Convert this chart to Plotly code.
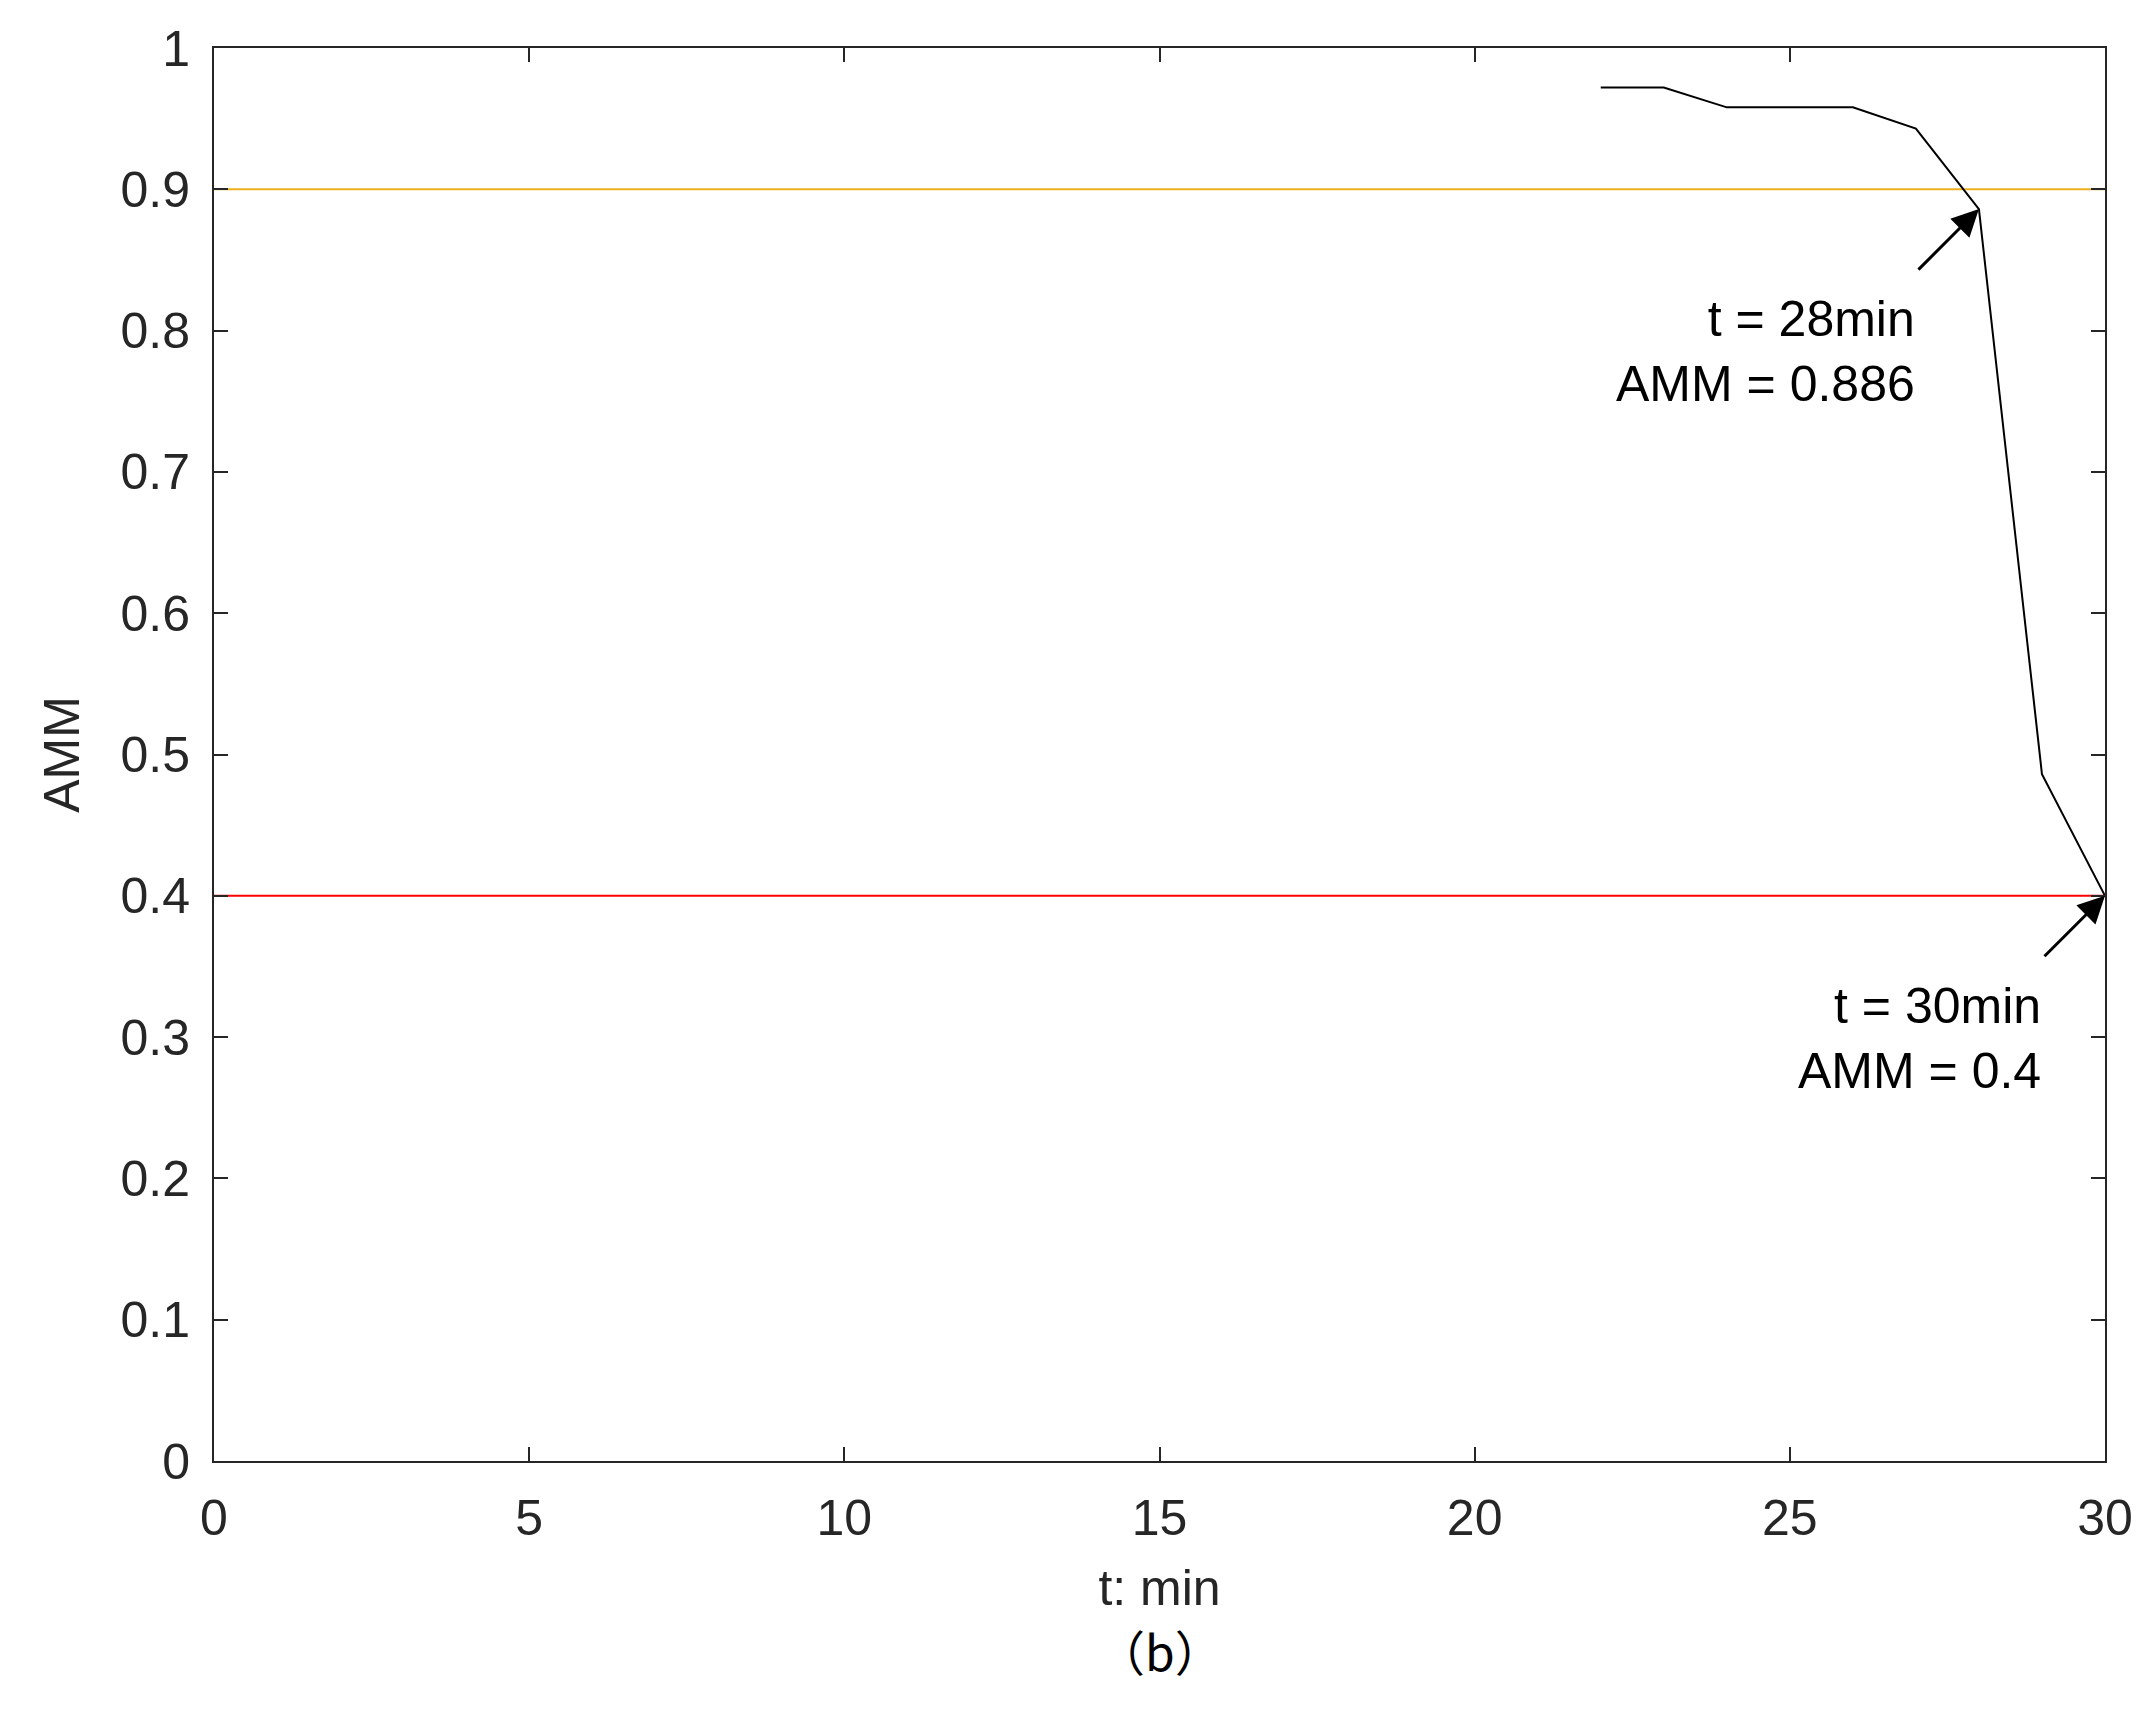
import plotly.graph_objects as go

t = [22, 23, 24, 25, 26, 27, 28, 29, 30]
amm = [0.972, 0.972, 0.958, 0.958, 0.958, 0.943, 0.886, 0.486, 0.4]
thresholds = [0.9, 0.4]
threshold_colors = ["#EDB120", "#FF0000"]

fig = go.Figure()
for th, c in zip(thresholds, threshold_colors):
    fig.add_trace(go.Scatter(x=[0, 30], y=[th, th], mode="lines",
                             line=dict(color=c, width=2), showlegend=False))
fig.add_trace(go.Scatter(x=t, y=amm, mode="lines",
                         line=dict(color="black", width=2), showlegend=False))

font = dict(family="Arial, Liberation Sans", size=50, color="#262626")
for x, y, txt in [(28, 0.886, "t = 28min<br>AMM = 0.886"), (30, 0.4, "t = 30min<br>AMM = 0.4")]:
    fig.add_annotation(x=x, y=y, ax=-62, ay=62, showarrow=True, arrowhead=2,
                       arrowsize=1.8, arrowwidth=3, arrowcolor="black", text="")
    fig.add_annotation(x=x, y=y, xshift=-62, yshift=-80, text=txt, showarrow=False,
                       xanchor="right", yanchor="top", align="right",
                       font=dict(family="Arial, Liberation Sans", size=50, color="black"))

fig.add_annotation(x=0.5, y=-0.16, xref="paper", yref="paper", text="（b）",
                   showarrow=False, font=dict(family="Noto Sans CJK SC", size=48, color="black"))

axis = dict(showline=True, linecolor="#262626", linewidth=2, mirror="ticks",
            ticks="inside", ticklen=14, tickwidth=2, tickcolor="#262626",
            showgrid=False, zeroline=False, tickfont=font, ticklabelstandoff=12)
fig.update_xaxes(range=[0, 30], dtick=5, title=dict(text="t: min", font=font, standoff=25), **axis)
fig.update_yaxes(range=[0, 1], dtick=0.1, title=dict(text="AMM", font=font, standoff=25), **axis)
fig.update_layout(width=2152, height=1736, plot_bgcolor="white", paper_bgcolor="white",
                  margin=dict(l=206, r=55, t=37, b=283), font=font)
fig.write_html("out.html")
